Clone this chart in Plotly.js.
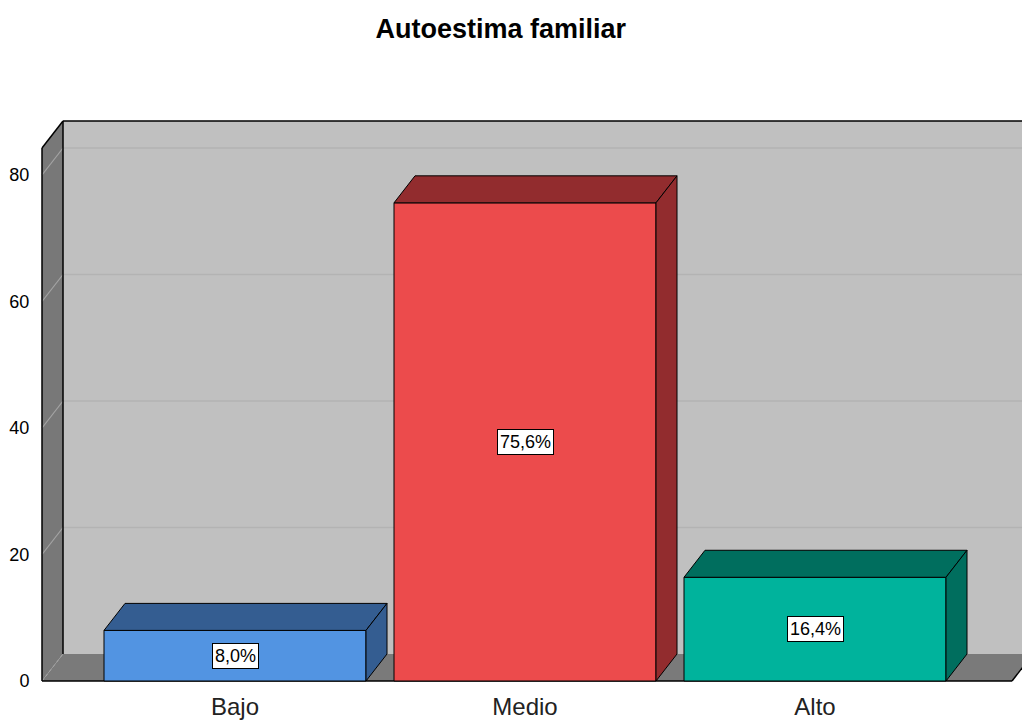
<!DOCTYPE html>
<html>
<head>
<meta charset="utf-8">
<script src="https://cdn.plot.ly/plotly-3.0.1.min.js"></script>
<style>html,body{margin:0;padding:0;background:#fff}#chart{width:1022px;height:722px}</style>
</head>
<body>
<div id="chart"></div>
<script>
// ---- data ----
const categories = ['Bajo', 'Medio', 'Alto'];
const values = [8.0, 75.6, 16.4];
const valueLabels = ['8,0%', '75,6%', '16,4%'];
const yTickVals = [0, 20, 40, 60, 80];
const yTickText = ['0', '20', '40', '60', '80'];
const gridVals = [20, 40, 60, 80];

// ---- styles ----
const frontColors = ['#5294e2', '#ec4b4c', '#00b39c'];
const darkColors = ['#345d91', '#922c2e', '#006e5e'];
const FONT = 'Liberation Sans, Arial, sans-serif';

// ---- geometry (axis units) ----
const pxX = 290, pxY = 6.325;          // pixels per axis unit
const dX = 21 / pxX, dY = 27 / pxY;    // 3D depth offset
const barW = 262 / pxX;
const xRange = [(36 - 235) / pxX, (1022 - 235) / pxX];
const yRange = [(681 - 686) / pxY, (681 - 116) / pxY];
const fx0 = (42 - 235) / pxX, fx1 = (1012 - 235) / pxX, fTop = (681 - 148) / pxY;
const farX = xRange[1] + 1;

const xIdx = categories.map((c, i) => i);

const traces = [];
// front faces (bars)
traces.push({
  type: 'bar', x: xIdx, y: values, width: barW,
  marker: {color: frontColors, line: {color: '#000', width: 1}},
  hoverinfo: 'skip', showlegend: false
});
// top & side faces
values.forEach((v, i) => {
  const l = i - barW / 2, r = i + barW / 2;
  traces.push({
    type: 'scatter', mode: 'lines', fill: 'toself', fillcolor: darkColors[i],
    x: [l, l + dX, r + dX, r, l], y: [v, v + dY, v + dY, v, v],
    line: {color: '#000', width: 1}, hoverinfo: 'skip', showlegend: false
  });
  traces.push({
    type: 'scatter', mode: 'lines', fill: 'toself', fillcolor: darkColors[i],
    x: [r, r, r + dX, r + dX, r], y: [0, v, v + dY, dY, 0],
    line: {color: '#000', width: 1}, hoverinfo: 'skip', showlegend: false
  });
});

// ---- walls as background shapes ----
function path(pts) { return 'M' + pts.map(p => p[0] + ',' + p[1]).join('L') + 'Z'; }
function line(x0, y0, x1, y1, color, width, dash) {
  return {type: 'line', xref: 'x', yref: 'y', x0, y0, x1, y1, layer: 'below',
          line: {color, width, dash: dash || 'solid'}};
}
const shapes = [];
// back wall
shapes.push({type: 'path', xref: 'x', yref: 'y', layer: 'below',
  path: path([[fx0 + dX, dY], [fx0 + dX, fTop + dY], [farX, fTop + dY], [farX, dY]]),
  fillcolor: '#c0c0c0', line: {width: 0}});
// left wall
shapes.push({type: 'path', xref: 'x', yref: 'y', layer: 'below',
  path: path([[fx0, 0], [fx0, fTop], [fx0 + dX, fTop + dY], [fx0 + dX, dY]]),
  fillcolor: '#787878', line: {width: 0}});
// floor
shapes.push({type: 'path', xref: 'x', yref: 'y', layer: 'below',
  path: path([[fx0, 0], [fx0 + dX, dY], [fx1 + dX, dY], [fx1, 0]]),
  fillcolor: '#7a7a7a', line: {width: 0}});
// grid lines on back wall and left wall
gridVals.forEach(g => {
  shapes.push(line(fx0 + dX, g + dY, farX, g + dY, '#b3b3b3', 1.5));
  shapes.push(line(fx0, g, fx0 + dX, g + dY, '#a4a4a4', 1.2));
});
shapes.push(line(fx0, 0, fx0 + dX, dY, '#a8a8a8', 1, 'dot'));
// edges
shapes.push(line(fx0, 0, fx0, fTop, '#000', 1.5));
shapes.push(line(fx0, fTop, fx0 + dX, fTop + dY, '#000', 1.5));
shapes.push(line(fx0 + dX, dY, fx0 + dX, fTop + dY, '#000', 1.5));
shapes.push(line(fx0 + dX, fTop + dY, farX, fTop + dY, '#000', 1.5));
shapes.push(line(fx0, 0, fx1, 0, '#000', 1.5));
shapes.push(line(fx1, 0, fx1 + dX, dY, '#000', 1.5));

// value labels
const annotations = values.map((v, i) => ({
  x: i, y: v / 2, xref: 'x', yref: 'y', text: valueLabels[i], showarrow: false,
  bgcolor: '#fff', bordercolor: '#000', borderwidth: 1, borderpad: 2,
  font: {family: FONT, size: 18, color: '#000'}
}));

const layout = {
  width: 1022, height: 722,
  margin: {l: 36, r: 0, t: 116, b: 36, pad: 0},
  paper_bgcolor: '#fff', plot_bgcolor: 'rgba(0,0,0,0)',
  showlegend: false, bargap: 0,
  font: {family: FONT, color: '#000'},
  title: {text: '<b>Autoestima familiar</b>', x: 0.49, xref: 'container', xanchor: 'center',
          y: 0.961, yref: 'container', yanchor: 'middle',
          font: {family: FONT, size: 27, color: '#000'}},
  xaxis: {range: xRange, tickvals: xIdx, ticktext: categories, showgrid: false,
          zeroline: false, showline: false, ticks: '', ticklabelstandoff: 4,
          tickfont: {family: FONT, size: 24, color: '#222'},
          fixedrange: true},
  yaxis: {range: yRange, tickvals: yTickVals, ticktext: yTickText, showgrid: false,
          zeroline: false, showline: false, ticks: 'outside', ticklen: 2,
          tickcolor: 'rgba(0,0,0,0)', tickfont: {family: FONT, size: 18, color: '#000'},
          fixedrange: true},
  shapes, annotations
};

Plotly.newPlot('chart', traces, layout, {displayModeBar: false, staticPlot: true});
</script>
</body>
</html>
